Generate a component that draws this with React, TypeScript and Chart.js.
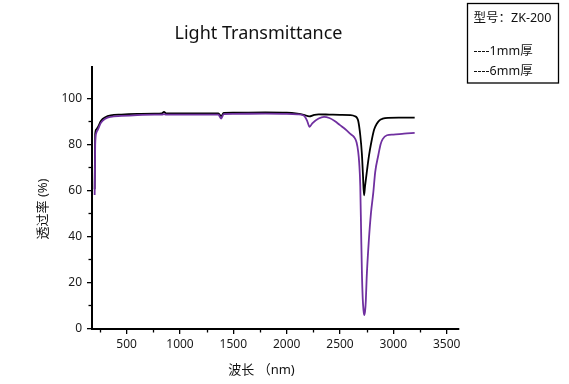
import React, { useEffect, useRef } from "react";
import { Chart, registerables } from "chart.js";

Chart.register(...registerables);

// ---- data ----
const wavelength1mm = [200, 205, 215, 230, 260, 300, 350, 450, 600, 760, 830, 850, 870, 1000, 1200, 1360, 1385, 1410, 1500, 1800, 2000, 2100, 2160, 2212, 2260, 2300, 2400, 2500, 2600, 2640, 2660, 2672, 2690, 2705, 2715, 2725, 2735, 2750, 2765, 2780, 2800, 2820, 2845, 2870, 2900, 2950, 3050, 3200];
const transmittance1mm = [60.5, 84.5, 86.5, 87.5, 90.3, 91.8, 92.6, 93, 93.3, 93.4, 93.5, 94.2, 93.5, 93.5, 93.5, 93.5, 92.3, 93.7, 93.8, 93.9, 93.8, 93.4, 92.9, 92.2, 92.9, 93.1, 93, 92.9, 92.8, 92.3, 91.5, 90, 84, 76, 67, 57.8, 62, 67.5, 73, 77.5, 82.5, 86.5, 89, 90.5, 91.2, 91.6, 91.7, 91.7];

const wavelength6mm = [200, 205, 215, 230, 260, 300, 350, 450, 600, 760, 830, 850, 870, 1000, 1200, 1360, 1385, 1410, 1500, 1800, 2000, 2100, 2160, 2190, 2215, 2240, 2300, 2350, 2400, 2450, 2500, 2550, 2600, 2630, 2655, 2670, 2680, 2690, 2698, 2705, 2713, 2720, 2727, 2735, 2742, 2750, 2770, 2790, 2812, 2830, 2860, 2880, 2900, 2940, 3000, 3100, 3200];
const transmittance6mm = [58, 80, 85, 86.5, 89.5, 91.2, 92, 92.4, 92.8, 93, 93, 93.2, 93, 93, 93, 93, 91.3, 93.2, 93.3, 93.4, 93.3, 93.1, 92.6, 90.5, 87.7, 89.2, 91.3, 92, 91.5, 90.2, 88.4, 86.6, 84.5, 83.3, 81, 77, 72, 62, 42, 25, 13, 8, 5.8, 7.5, 12, 22, 38, 50, 59, 68, 75.5, 80, 82.3, 84, 84.3, 84.7, 85];

const xMajorTicks = [500, 1000, 1500, 2000, 2500, 3000, 3500];
const xMinorTicks = [250, 750, 1250, 1750, 2250, 2750, 3250];
const yMajorTicks = [0, 20, 40, 60, 80, 100];
const yMinorTicks = [10, 30, 50, 70, 90];

const titleText = "Light Transmittance";
const xTitle = "波长 （nm)";
const yTitle = "透过率 (%)";
const legendLines = ["型号：ZK-200", "----1mm厚", "----6mm厚"];

const FONT = "'Noto Sans', 'Noto Sans CJK SC', sans-serif";

const decorPlugin = {
  id: "decor",
  afterDraw(chart: any) {
    const ctx = chart.ctx;
    const xs = chart.scales.x;
    const ys = chart.scales.y;
    ctx.save();
    // minor ticks
    ctx.strokeStyle = "#000";
    ctx.lineWidth = 1.3;
    xMinorTicks.forEach((v) => {
      const px = Math.round(xs.getPixelForValue(v)) + 0.5;
      ctx.beginPath();
      ctx.moveTo(px, xs.top);
      ctx.lineTo(px, xs.top + 3.5);
      ctx.stroke();
    });
    yMinorTicks.forEach((v) => {
      const py = Math.round(ys.getPixelForValue(v)) + 0.5;
      ctx.beginPath();
      ctx.moveTo(ys.right, py);
      ctx.lineTo(ys.right - 3.5, py);
      ctx.stroke();
    });

    ctx.fillStyle = "#111";
    // title
    ctx.font = `18px ${FONT}`;
    ctx.textAlign = "center";
    ctx.textBaseline = "alphabetic";
    ctx.fillText(titleText, 258.5, 38.5);

    // x axis title
    ctx.font = `13px ${FONT}`;
    ctx.textBaseline = "middle";
    ctx.fillText(xTitle, 261.5, 370);

    // y axis title
    ctx.save();
    ctx.translate(43.5, 209);
    ctx.rotate(-Math.PI / 2);
    ctx.fillText(yTitle, 0, 0);
    ctx.restore();

    // legend box
    ctx.strokeStyle = "#000";
    ctx.lineWidth = 1.3;
    ctx.strokeRect(467.5, 3.5, 91, 79.5);
    ctx.font = `12.5px ${FONT}`;
    ctx.textAlign = "left";
    ctx.textBaseline = "middle";
    const ys2 = [18.5, 51.5, 71];
    legendLines.forEach((t, i) => ctx.fillText(t, 473.5, ys2[i]));
    ctx.restore();
  },
};

export default function App() {
  const ref = useRef<HTMLCanvasElement | null>(null);
  useEffect(() => {
    if (!ref.current) return;
    const chart = new Chart(ref.current, {
      type: "line",
      data: {
        datasets: [
          {
            label: "6mm厚",
            data: wavelength6mm.map((w, i) => ({ x: w, y: transmittance6mm[i] })),
            borderColor: "#7030A0",
            borderWidth: 1.8,
            pointRadius: 0,
            cubicInterpolationMode: "monotone",
            fill: false,
          },
          {
            label: "1mm厚",
            data: wavelength1mm.map((w, i) => ({ x: w, y: transmittance1mm[i] })),
            borderColor: "#000000",
            borderWidth: 1.8,
            pointRadius: 0,
            cubicInterpolationMode: "monotone",
            fill: false,
          },
        ],
      },
      options: {
        responsive: false,
        animation: false,
        events: [],
        layout: { padding: { top: 67, right: 110.7, left: 0, bottom: 0 } },
        plugins: {
          legend: { display: false },
          title: { display: false },
          tooltip: { enabled: false },
        },
        scales: {
          x: {
            type: "linear",
            min: 175,
            max: 3609,
            afterBuildTicks: (s: any) => {
              s.ticks = xMajorTicks.map((v) => ({ value: v }));
            },
            afterFit: (s: any) => {
              s.height = 55;
            },
            grid: { drawOnChartArea: false, drawTicks: true, tickLength: 5, color: "#000", lineWidth: 1.3 },
            border: { display: true, color: "#000", width: 2 },
            ticks: {
              color: "#1a1a1a",
              font: { family: FONT, size: 12 },
              padding: 3,
              maxRotation: 0,
              autoSkip: false,
              callback: (v: any) => String(v),
            },
          },
          y: {
            type: "linear",
            min: -0.3,
            max: 113.7,
            afterBuildTicks: (s: any) => {
              s.ticks = yMajorTicks.map((v) => ({ value: v }));
            },
            afterFit: (s: any) => {
              s.width = 92;
            },
            grid: { drawOnChartArea: false, drawTicks: true, tickLength: 5, color: "#000", lineWidth: 1.3 },
            border: { display: true, color: "#000", width: 2 },
            ticks: {
              color: "#1a1a1a",
              font: { family: FONT, size: 12 },
              padding: 5,
              autoSkip: false,
              callback: (v: any) => String(v),
            },
          },
        },
      },
      plugins: [decorPlugin],
    } as any);
    return () => chart.destroy();
  }, []);
  return (
    <div style={{ position: "absolute", left: 0, top: 0, width: 569, height: 384, background: "#fff" }}>
      <canvas ref={ref} width={569} height={384} style={{ display: "block" }} />
    </div>
  );
}
